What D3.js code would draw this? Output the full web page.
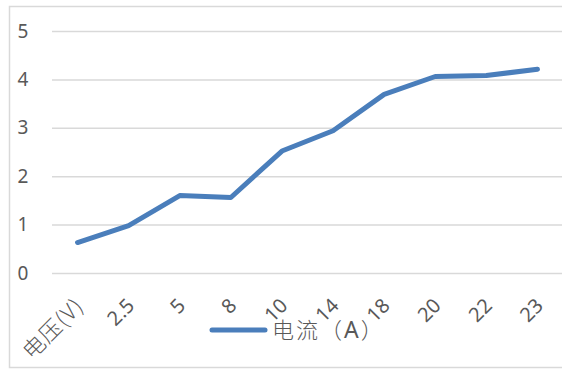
<!DOCTYPE html>
<html>
<head>
<meta charset="utf-8">
<script src="https://cdn.jsdelivr.net/npm/d3@7"></script>
<style>
  body { margin: 0; background: #fff; }
  text { font-family: "Noto Sans", "Noto Sans CJK SC", sans-serif; fill: #595959; }
  .cjk { font-family: "Noto Sans CJK SC", sans-serif; font-weight: 300; }
</style>
</head>
<body>
<script>
const width = 562, height = 369;

// data
const categories = ["电压(V)", "2.5", "5", "8", "10", "14", "18", "20", "22", "23"];
const current = [0.63, 0.98, 1.60, 1.56, 2.52, 2.94, 3.69, 4.06, 4.08, 4.21];
const yTicks = [0, 1, 2, 3, 4, 5];
const seriesName = "电流（A）";

const lineColor = "#4a7ebb";
const gridColor = "#d9d9d9";

const margin = {left: 52, right: 0, top: 31, bottom: 96};

const svg = d3.select("body")
    .append("svg")
    .attr("width", width)
    .attr("height", height);

// chart border
svg.append("rect")
    .attr("x", 9.5).attr("y", 6.5)
    .attr("width", width).attr("height", 361)
    .attr("fill", "none")
    .attr("stroke", gridColor)
    .attr("stroke-width", 1.5);

const x = d3.scaleBand()
    .domain(categories)
    .range([margin.left, 563]);

const y = d3.scaleLinear()
    .domain([0, 5])
    .range([273, 31]);

// horizontal grid
const yAxis = svg.append("g")
    .attr("transform", `translate(${margin.left},0)`)
    .call(d3.axisLeft(y).tickValues(yTicks).tickSize(-(563 - margin.left)).tickFormat(d3.format("d")));
yAxis.select(".domain").remove();
yAxis.selectAll(".tick text")
    .attr("x", -29)
    .attr("text-anchor", "middle")
    .style("font-size", "19px");
yAxis.selectAll(".tick line").attr("stroke", gridColor).attr("stroke-width", 1.5);

// category labels, rotated
const isCjk = s => /[^\x00-\x7f]/.test(s);
const xAxis = svg.append("g")
    .attr("transform", "translate(0,285)")
    .call(d3.axisBottom(x).tickSize(0));
xAxis.select(".domain").remove();
xAxis.selectAll(".tick text")
    .attr("text-anchor", "end")
    .attr("transform", "translate(2,17) rotate(-45)")
    .attr("dy", "0.35em")
    .attr("y", 0)
    .classed("cjk", isCjk)
    .style("font-size", d => isCjk(d) ? "22px" : "20px")
    .style("letter-spacing", d => isCjk(d) ? "1px" : null);

// the line
const line = d3.line()
    .x((d, i) => x(categories[i]) + x.bandwidth() / 2)
    .y(d => y(d));

svg.append("path")
    .datum(current)
    .attr("d", line)
    .attr("fill", "none")
    .attr("stroke", lineColor)
    .attr("stroke-width", 5)
    .attr("stroke-linejoin", "round")
    .attr("stroke-linecap", "round");

// legend: split the name so the latin letter gets the regular face
const legend = svg.append("g").attr("transform", "translate(212,330)");
legend.append("line")
    .attr("x1", 0).attr("x2", 53)
    .attr("stroke", lineColor)
    .attr("stroke-width", 5)
    .attr("stroke-linecap", "round");
const legendText = legend.append("text")
    .attr("x", 60)
    .attr("dy", "0.36em")
    .style("font-size", "22px")
    .style("letter-spacing", "2px");
seriesName.split(/(A)/).filter(s => s).forEach(part => {
    legendText.append("tspan")
        .attr("class", isCjk(part) ? "cjk" : null)
        .style("font-size", isCjk(part) ? "22px" : "23px")
        .text(part);
});
</script>
</body>
</html>
